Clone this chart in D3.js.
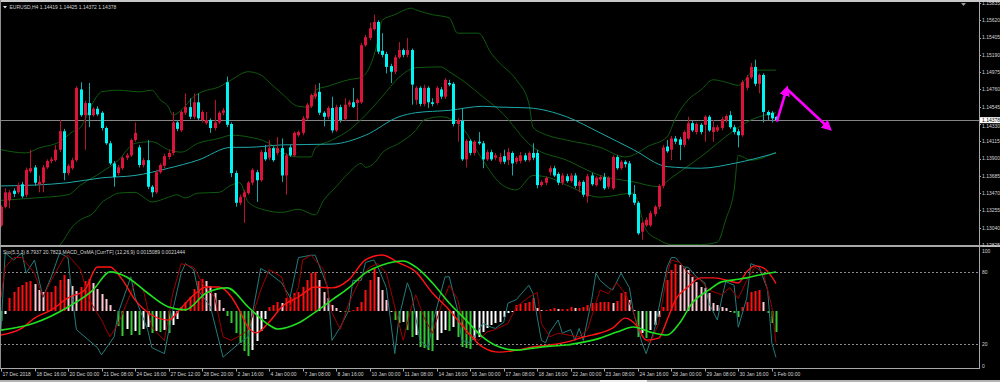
<!DOCTYPE html>
<html>
<head>
<meta charset="utf-8">
<title>EURUSD,H4</title>
<script src="https://cdn.jsdelivr.net/npm/d3@7"></script>
<style>
  html, body { margin: 0; padding: 0; background: #000; }
  svg { display: block; }
  text { font-family: "Liberation Sans", Arial, sans-serif; font-size: 5px; fill: #d4d4d4; }
</style>
</head>
<body>
<svg id="chart" width="1000" height="382"></svg>
<script>
// ---- data (H4 bars, open/high/low/close) ----
var candles = [
  [1.1307,1.1332,1.1305,1.1330],[1.1330,1.1353,1.1328,1.1348],[1.1338,1.1351,1.1328,1.1348],[1.1350,1.1353,1.1342,1.1346],
  [1.1348,1.1360,1.1346,1.1357],[1.1358,1.1361,1.1341,1.1343],[1.1345,1.1379,1.1342,1.1376],[1.1374,1.1401,1.1372,1.1378],
  [1.1379,1.1382,1.1356,1.1360],[1.1358,1.1369,1.1348,1.1361],[1.1360,1.1382,1.1348,1.1379],[1.1379,1.1389,1.1377,1.1387],
  [1.1387,1.1392,1.1384,1.1389],[1.1388,1.1407,1.1386,1.1401],[1.1401,1.1438,1.1398,1.1424],[1.1424,1.1427,1.1363,1.1372],
  [1.1372,1.1383,1.1369,1.1381],[1.1378,1.1391,1.1376,1.1388],[1.1388,1.1480,1.1386,1.1478],[1.1476,1.1485,1.1442,1.1444],
  [1.1444,1.1462,1.1401,1.1459],[1.1459,1.1484,1.1429,1.1444],[1.1444,1.1454,1.1442,1.1452],[1.1452,1.1455,1.1443,1.1445],
  [1.1447,1.1449,1.1425,1.1428],[1.1428,1.1430,1.1407,1.1409],[1.1409,1.1412,1.1382,1.1384],[1.1384,1.1387,1.1355,1.1367],
  [1.1372,1.1382,1.1369,1.1379],[1.1378,1.1393,1.1376,1.1391],[1.1391,1.1397,1.1388,1.1394],[1.1394,1.1415,1.1392,1.1413],
  [1.1413,1.1435,1.1411,1.1422],[1.1404,1.1407,1.1379,1.1382],[1.1382,1.1391,1.1379,1.1388],[1.1388,1.1413,1.1352,1.1355],
  [1.1355,1.1357,1.1342,1.1348],[1.1348,1.1376,1.1346,1.1373],[1.1373,1.1384,1.1371,1.1382],[1.1381,1.1396,1.1378,1.1393],
  [1.1392,1.1401,1.1389,1.1397],[1.1397,1.1448,1.1394,1.1435],[1.1435,1.1438,1.1424,1.1427],[1.1425,1.1450,1.1423,1.1448],
  [1.1447,1.1471,1.1444,1.1454],[1.1454,1.1465,1.1439,1.1442],[1.1442,1.1471,1.1439,1.1460],[1.1460,1.1471,1.1438,1.1440],
  [1.1438,1.1450,1.1435,1.1448],[1.1434,1.1448,1.1432,1.1438],[1.1438,1.1440,1.1422,1.1428],[1.1428,1.1463,1.1425,1.1435],
  [1.1435,1.1449,1.1433,1.1447],[1.1447,1.1453,1.1444,1.1450],[1.1485,1.1492,1.1429,1.1432],[1.1433,1.1435,1.1367,1.1372],
  [1.1372,1.1375,1.1330,1.1335],[1.1335,1.1345,1.1332,1.1342],[1.1342,1.1351,1.1310,1.1348],[1.1347,1.1362,1.1345,1.1360],
  [1.1360,1.1378,1.1357,1.1376],[1.1373,1.1376,1.1336,1.1363],[1.1363,1.1401,1.1361,1.1398],[1.1398,1.1407,1.1387,1.1389],
  [1.1391,1.1413,1.1388,1.1403],[1.1403,1.1405,1.1386,1.1388],[1.1397,1.1417,1.1394,1.1403],[1.1403,1.1415,1.1361,1.1369],
  [1.1369,1.1397,1.1345,1.1394],[1.1404,1.1407,1.1392,1.1394],[1.1394,1.1424,1.1392,1.1422],[1.1419,1.1425,1.1417,1.1423],
  [1.1422,1.1443,1.1419,1.1440],[1.1440,1.1459,1.1438,1.1457],[1.1455,1.1471,1.1453,1.1469],[1.1467,1.1482,1.1464,1.1471],
  [1.1473,1.1484,1.1444,1.1447],[1.1447,1.1449,1.1430,1.1442],[1.1442,1.1455,1.1439,1.1453],[1.1453,1.1467,1.1422,1.1425],
  [1.1425,1.1457,1.1423,1.1454],[1.1454,1.1457,1.1435,1.1438],[1.1439,1.1465,1.1437,1.1457],[1.1457,1.1463,1.1454,1.1460],
  [1.1460,1.1478,1.1453,1.1454],[1.1459,1.1465,1.1438,1.1463],[1.1460,1.1534,1.1458,1.1531],[1.1531,1.1544,1.1529,1.1541],
  [1.1540,1.1559,1.1537,1.1552],[1.1551,1.1569,1.1549,1.1560],[1.1560,1.1562,1.1520,1.1523],[1.1524,1.1546,1.1516,1.1519],
  [1.1520,1.1523,1.1496,1.1504],[1.1505,1.1508,1.1484,1.1498],[1.1498,1.1519,1.1495,1.1516],[1.1516,1.1535,1.1514,1.1525],
  [1.1525,1.1527,1.1516,1.1519],[1.1519,1.1540,1.1516,1.1525],[1.1525,1.1527,1.1457,1.1482],[1.1463,1.1480,1.1457,1.1478],
  [1.1478,1.1480,1.1455,1.1458],[1.1458,1.1482,1.1455,1.1478],[1.1478,1.1480,1.1453,1.1460],[1.1460,1.1465,1.1455,1.1458],
  [1.1459,1.1480,1.1457,1.1478],[1.1476,1.1479,1.1464,1.1467],[1.1467,1.1490,1.1464,1.1488],[1.1484,1.1488,1.1480,1.1482],
  [1.1483,1.1485,1.1430,1.1433],[1.1433,1.1440,1.1411,1.1438],[1.1437,1.1453,1.1387,1.1389],[1.1389,1.1414,1.1379,1.1412],
  [1.1412,1.1414,1.1394,1.1397],[1.1397,1.1413,1.1394,1.1411],[1.1411,1.1423,1.1407,1.1409],[1.1409,1.1412,1.1378,1.1389],
  [1.1389,1.1401,1.1387,1.1398],[1.1398,1.1401,1.1387,1.1389],[1.1391,1.1397,1.1388,1.1394],[1.1386,1.1397,1.1383,1.1392],
  [1.1393,1.1401,1.1383,1.1386],[1.1388,1.1403,1.1382,1.1398],[1.1397,1.1399,1.1369,1.1384],[1.1386,1.1393,1.1383,1.1391],
  [1.1387,1.1398,1.1384,1.1394],[1.1394,1.1397,1.1386,1.1388],[1.1388,1.1399,1.1386,1.1397],[1.1397,1.1409,1.1388,1.1391],
  [1.1397,1.1401,1.1353,1.1357],[1.1357,1.1363,1.1355,1.1361],[1.1360,1.1368,1.1357,1.1366],[1.1373,1.1381,1.1369,1.1378],
  [1.1378,1.1381,1.1367,1.1369],[1.1371,1.1373,1.1357,1.1360],[1.1360,1.1372,1.1357,1.1369],[1.1368,1.1371,1.1360,1.1362],
  [1.1362,1.1372,1.1360,1.1369],[1.1369,1.1372,1.1353,1.1356],[1.1356,1.1363,1.1348,1.1361],[1.1361,1.1363,1.1342,1.1345],
  [1.1343,1.1371,1.1335,1.1368],[1.1369,1.1372,1.1356,1.1358],[1.1357,1.1368,1.1355,1.1366],[1.1364,1.1369,1.1362,1.1367],
  [1.1367,1.1372,1.1351,1.1353],[1.1355,1.1368,1.1352,1.1366],[1.1353,1.1394,1.1351,1.1392],[1.1392,1.1394,1.1376,1.1378],
  [1.1378,1.1388,1.1376,1.1386],[1.1386,1.1388,1.1379,1.1383],[1.1384,1.1387,1.1342,1.1345],[1.1346,1.1357,1.1332,1.1335],
  [1.1335,1.1337,1.1295,1.1297],[1.1299,1.1312,1.1289,1.1310],[1.1307,1.1317,1.1305,1.1314],[1.1307,1.1325,1.1305,1.1322],
  [1.1321,1.1332,1.1318,1.1330],[1.1330,1.1358,1.1327,1.1356],[1.1356,1.1407,1.1353,1.1404],[1.1405,1.1413,1.1397,1.1399],
  [1.1401,1.1418,1.1388,1.1415],[1.1415,1.1418,1.1408,1.1411],[1.1414,1.1417,1.1388,1.1407],[1.1407,1.1425,1.1404,1.1423],
  [1.1415,1.1442,1.1413,1.1434],[1.1434,1.1437,1.1423,1.1425],[1.1423,1.1435,1.1420,1.1433],[1.1432,1.1434,1.1420,1.1423],
  [1.1432,1.1444,1.1411,1.1442],[1.1442,1.1444,1.1423,1.1425],[1.1423,1.1438,1.1411,1.1429],[1.1425,1.1432,1.1423,1.1429],
  [1.1428,1.1442,1.1425,1.1439],[1.1438,1.1445,1.1435,1.1443],[1.1444,1.1449,1.1427,1.1429],[1.1429,1.1432,1.1420,1.1423],
  [1.1424,1.1427,1.1404,1.1419],[1.1419,1.1488,1.1417,1.1485],[1.1478,1.1494,1.1475,1.1491],[1.1491,1.1509,1.1489,1.1504],
  [1.1504,1.1513,1.1480,1.1483],[1.1483,1.1496,1.1471,1.1494],[1.1494,1.1496,1.1435,1.1448],[1.1448,1.1450,1.1438,1.1444],
  [1.1447,1.1449,1.1435,1.1440],[1.14419,1.14425,1.14372,1.14378]
];

// indicator readings: [bar index, value]
var bbUpper = [[0,1.1401],[6,1.1397],[9,1.1403],[14,1.1411],[17,1.1423],[19,1.1429],[22,1.1460],[24,1.1473],[28,1.1475],
  [33,1.1473],[36,1.1475],[38,1.1463],[40,1.1454],[41,1.1444],[43,1.1450],[46,1.1467],[48,1.1473],[52,1.1479],[55,1.1488],
  [59,1.1498],[62,1.1494],[64,1.1485],[67,1.1471],[71,1.1455],[74,1.1454],[75,1.1475],[78,1.1480],[83,1.1488],[86,1.1491],
  [88,1.1504],[90,1.1537],[91,1.1562],[94,1.1569],[98,1.1577],[99,1.1575],[103,1.1569],[107,1.1565],[109,1.1546],[114,1.1546],
  [117,1.1521],[119,1.1509],[123,1.1488],[126,1.1459],[127,1.1429],[129,1.1422],[131,1.1418],[135,1.1413],[143,1.1404],
  [149,1.1392],[152,1.1397],[154,1.1404],[159,1.1417],[161,1.1440],[164,1.1463],[167,1.1475],[170,1.1488],[173,1.1485],
  [176,1.1481],[180,1.1500],[185,1.1500]];
var bbMiddle = [[0,1.1338],[8,1.1341],[16,1.1345],[19,1.1357],[24,1.1373],[28,1.1388],[32,1.1409],[36,1.1411],[40,1.1401],
  [43,1.1398],[47,1.1409],[52,1.1415],[55,1.1419],[59,1.1417],[64,1.1409],[67,1.1398],[71,1.1392],[74,1.1392],[75,1.1403],
  [79,1.1413],[83,1.1425],[87,1.1444],[91,1.1467],[95,1.1491],[99,1.1503],[105,1.1504],[107,1.1498],[111,1.1484],[115,1.1467],
  [119,1.1450],[127,1.1404],[135,1.1388],[143,1.1369],[151,1.1361],[157,1.1355],[160,1.1366],[167,1.1392],[175,1.1425],
  [179,1.1438],[185,1.1447]];
var bbLower = [[14,1.1282],[15,1.1289],[17,1.1305],[19,1.1314],[22,1.1322],[24,1.1335],[26,1.1342],[28,1.1347],[32,1.1348],
  [34,1.1342],[36,1.1336],[40,1.1342],[42,1.1345],[44,1.1341],[47,1.1347],[52,1.1348],[55,1.1357],[57,1.1360],[59,1.1336],
  [63,1.1326],[67,1.1323],[71,1.1327],[75,1.1320],[77,1.1338],[80,1.1355],[83,1.1372],[86,1.1384],[87,1.1379],[89,1.1384],
  [91,1.1397],[95,1.1409],[99,1.1425],[101,1.1438],[105,1.1442],[107,1.1440],[110,1.1429],[115,1.1388],[119,1.1360],
  [123,1.1351],[127,1.1369],[131,1.1366],[135,1.1357],[143,1.1342],[151,1.1347],[154,1.1301],[157,1.1289],[160,1.1283],
  [167,1.1283],[171,1.1286],[173,1.1314],[175,1.1351],[176,1.1394],[179,1.1388],[185,1.1398]];
var maSlow = [[0,1.1356],[8,1.1357],[16,1.1360],[24,1.1366],[32,1.1369],[40,1.1378],[47,1.1388],[55,1.1404],[59,1.1404],
  [67,1.1407],[79,1.1408],[87,1.1419],[95,1.1442],[99,1.1447],[107,1.1450],[115,1.1455],[119,1.1454],[126,1.1453],
  [135,1.1442],[143,1.1422],[151,1.1401],[159,1.1380],[167,1.1378],[175,1.1384],[185,1.1397]];

// Stochastic (5,3,3): main and signal, 0..100
var stochMain = [[0,32],[1,96],[3,90],[5,96],[6,79],[8,90],[10,59],[12,76],[14,96],[16,92],[17,59],[18,32],[23,17],[24,11],
  [27,26],[28,46],[31,76],[32,59],[35,32],[36,17],[39,12],[41,48],[43,79],[44,87],[46,82],[47,65],[50,51],[52,23],[53,9],
  [55,15],[57,21],[59,26],[62,83],[64,79],[67,71],[69,59],[71,92],[74,94],[75,94],[78,67],[79,23],[81,34],[83,48],[84,73],
  [86,73],[87,88],[89,90],[90,84],[92,67],[94,12],[95,42],[97,71],[98,62],[100,23],[102,17],[103,37],[106,76],[107,76],
  [109,48],[110,23],[112,21],[115,37],[117,34],[118,33],[120,38],[121,54],[123,57],[126,69],[127,62],[129,23],[130,21],
  [131,30],[133,40],[134,29],[136,32],[137,23],[138,33],[139,23],[141,57],[142,79],[143,73],[145,67],[146,65],[148,79],
  [150,67],[151,46],[153,21],[154,12],[156,32],[159,84],[160,92],[161,92],[163,84],[164,84],[166,76],[168,71],[169,54],
  [171,40],[172,57],[173,72],[175,69],[176,34],[178,58],[179,87],[181,84],[183,65],[184,21],[185,8.7937]];
var stochSignal = [[0,59],[1,84],[3,92],[5,92],[8,79],[10,59],[12,73],[15,92],[16,94],[19,82],[21,57],[24,40],[26,26],[28,37],
  [32,71],[34,65],[36,34],[39,23],[41,62],[43,87],[46,84],[48,71],[51,59],[53,26],[55,23],[58,29],[59,32],[62,65],[64,82],
  [67,76],[69,51],[71,67],[72,90],[74,94],[77,82],[79,46],[81,32],[83,54],[86,76],[88,84],[90,87],[92,79],[95,37],[96,23],
  [98,51],[99,61],[101,42],[103,29],[105,51],[107,69],[109,57],[111,29],[114,23],[116,30],[118,32],[121,37],[123,51],
  [126,59],[128,63],[129,37],[131,26],[133,29],[136,27],[138,26],[140,32],[142,54],[143,65],[145,62],[147,71],[149,62],
  [151,46],[153,26],[155,21],[157,37],[159,79],[160,90],[162,88],[164,79],[167,73],[169,65],[172,61],[174,67],[176,58],
  [178,73],[180,84],[182,79],[184,51],[185,20.7823]];

// MACD (12,26,9) in points (1e-5)
var macdMain = [[0,-132],[5,-94],[8,-39],[12,6],[16,72],[20,116],[23,242],[26,242],[29,171],[32,61],[36,-22],[40,-50],
  [43,17],[46,88],[49,132],[52,132],[55,77],[57,0],[59,-90],[61,-120],[64,-61],[67,22],[71,77],[75,132],[79,127],[83,171],
  [87,281],[91,308],[95,264],[99,215],[103,99],[107,6],[111,-105],[115,-198],[119,-226],[123,-215],[127,-198],[131,-187],
  [135,-171],[139,-143],[143,-121],[146,-94],[149,-39],[152,-88],[154,-160],[157,-149],[159,-50],[161,61],[164,132],
  [167,182],[170,182],[173,171],[176,154],[178,215],[180,248],[182,237],[184,187],[185,151]];
var macdSignal = [[0,-105],[8,-66],[16,22],[22,116],[26,215],[30,187],[35,99],[40,22],[44,6],[49,99],[54,127],[59,22],
  [64,-77],[66,-99],[71,-66],[75,-6],[79,61],[83,127],[87,209],[91,253],[96,275],[99,242],[103,154],[107,44],[111,-50],
  [115,-143],[119,-198],[123,-215],[127,-204],[131,-193],[135,-187],[139,-171],[143,-149],[147,-116],[151,-88],[155,-116],
  [159,-132],[162,-66],[165,44],[169,116],[172,160],[175,171],[178,182],[181,198],[185,214]];
// OsMA histogram, one value per bar, points (1e-5)
var osma = [-30,-9,39,57,72,78,87,90,81,63,57,57,57,75,93,108,96,75,60,72,90,96,84,66,51,36,18,3,-45,-75,
  -54,-72,-60,-72,-54,-48,-66,-60,-63,-57,-66,-42,-24,12,27,42,66,90,96,90,75,54,33,9,-15,-36,-66,-96,-120,-135,
  -117,-90,-60,-24,12,18,27,24,39,42,54,57,72,93,114,117,93,57,39,18,9,0,-3,0,3,12,27,63,93,129,
  102,63,33,0,-27,-36,-33,-57,-78,-72,-108,-111,-117,-120,-87,-66,-57,-60,-48,-78,-108,-111,-114,-87,-78,-63,-51,-42,-36,-33,
  -18,-6,-3,18,21,24,27,39,9,3,3,6,9,6,6,6,12,9,9,12,18,24,24,27,27,27,24,30,54,57,
  33,3,-78,-66,-81,-57,-42,-18,12,93,123,141,138,129,123,102,87,72,69,54,24,18,12,9,0,-6,-18,12,27,57,60,63,27,-6,-36,-63];

var timeLabels = ["17 Dec 2018","18 Dec 16:00","20 Dec 00:00","21 Dec 08:00","24 Dec 16:00","27 Dec 12:00","28 Dec 20:00",
  "2 Jan 16:00","4 Jan 00:00","7 Jan 08:00","8 Jan 16:00","10 Jan 00:00","11 Jan 08:00","14 Jan 16:00","16 Jan 00:00",
  "17 Jan 08:00","18 Jan 16:00","22 Jan 00:00","23 Jan 08:00","24 Jan 16:00","28 Jan 00:00","29 Jan 08:00","30 Jan 16:00","1 Feb 00:00"];
var priceTicks = [1.15835,1.15620,1.15405,1.15190,1.14975,1.14760,1.14545,1.14330,1.14115,1.13900,1.13685,1.13470,1.13255,1.13040,1.12825];
var oscTicks = [100,80,20,0];
var oscLevels = [80,20];
var lastPrice = 1.14378;
// hand-drawn arrows (bar index, price)
var arrowPath = [[185.2,1.1436],[187.5,1.1476],[197.6,1.1428]];

var mainTitle = "EURUSD,H4  1.14419 1.14425 1.14372 1.14378";
var oscTitle = "Sto(5,3,3) 8.7937 20.7823   MACD_OsMA [CurrTF] (12,26,9) 0.0015089 0.0021444";

// ---- layout ----
var svg = d3.select("#chart");
var plotR = 979;
var x = d3.scaleLinear().domain([0, 185]).range([1, 776]);
var y = d3.scaleLinear().domain([1.12825, 1.15835]).range([245, 3]);
var yS = d3.scaleLinear().domain([0, 100]).range([368, 248]);
var yM = d3.scaleLinear().domain([-200, 200]).range([347.4, 274.6]);
var yH = d3.scaleLinear().domain([-30, 30]).range([321, 301]);

svg.append("rect").attr("width", 1000).attr("height", 382).attr("fill", "#000");

var defs = svg.append("defs");
defs.append("clipPath").attr("id", "clipMain").append("rect").attr("x", 0).attr("y", 3).attr("width", plotR).attr("height", 242);
defs.append("clipPath").attr("id", "clipOsc").append("rect").attr("x", 0).attr("y", 248).attr("width", plotR).attr("height", 120);
defs.append("marker").attr("id", "head").attr("viewBox", "0 0 10 10").attr("refX", 6).attr("refY", 5)
  .attr("markerWidth", 4).attr("markerHeight", 4).attr("orient", "auto")
  .append("path").attr("d", "M0,0 L10,5 L0,10 z").attr("fill", "#ff00ff");

// ---- main panel ----
var main = svg.append("g").attr("clip-path", "url(#clipMain)");

main.append("line").attr("x1", 0).attr("x2", plotR)
  .attr("y1", Math.round(y(lastPrice)) + 0.5).attr("y2", Math.round(y(lastPrice)) + 0.5)
  .attr("stroke", "#858585").attr("stroke-width", 1);

var pline = d3.line().x(function(d) { return x(d[0]); }).y(function(d) { return y(d[1]); }).curve(d3.curveMonotoneX);
[bbUpper, bbMiddle, bbLower].forEach(function(s) {
  main.append("path").attr("d", pline(s)).attr("fill", "none").attr("stroke", "#0f5a0f").attr("stroke-width", 1);
});
main.append("path").attr("d", pline(maSlow)).attr("fill", "none").attr("stroke", "#1fa8a8").attr("stroke-width", 1);

var bars = main.selectAll("g.candle").data(candles).enter().append("g").attr("class", "candle");
bars.append("line")
  .attr("x1", function(d, i) { return Math.round(x(i)) + 0.5; })
  .attr("x2", function(d, i) { return Math.round(x(i)) + 0.5; })
  .attr("y1", function(d) { return y(d[1]); })
  .attr("y2", function(d) { return y(d[2]); })
  .attr("stroke", function(d) { return d[3] >= d[0] ? "#b8102e" : "#18a8a8"; })
  .attr("stroke-width", 1);
bars.append("rect")
  .attr("x", function(d, i) { return Math.round(x(i)) - 1; })
  .attr("width", 3)
  .attr("y", function(d) { return y(Math.max(d[0], d[3])); })
  .attr("height", function(d) { return Math.max(1, Math.abs(y(d[0]) - y(d[3]))); })
  .attr("fill", function(d) { return d[3] >= d[0] ? "#dc143c" : "#00f4f4"; });

main.append("path")
  .attr("d", "M" + x(arrowPath[0][0]) + "," + y(arrowPath[0][1]) + "L" + x(arrowPath[1][0]) + "," + y(arrowPath[1][1]))
  .attr("stroke", "#ff00ff").attr("stroke-width", 2.6).attr("fill", "none").attr("marker-end", "url(#head)");
main.append("path")
  .attr("d", "M" + (x(arrowPath[1][0]) + 1) + "," + y(arrowPath[1][1]) + "L" + x(arrowPath[2][0]) + "," + y(arrowPath[2][1]))
  .attr("stroke", "#ff00ff").attr("stroke-width", 2.6).attr("fill", "none").attr("marker-end", "url(#head)");

// ---- oscillator panel ----
var osc = svg.append("g").attr("clip-path", "url(#clipOsc)");
oscLevels.forEach(function(v) {
  osc.append("line").attr("x1", 0).attr("x2", plotR).attr("y1", Math.round(yS(v)) + 0.5).attr("y2", Math.round(yS(v)) + 0.5)
    .attr("stroke", "#8c8c8c").attr("stroke-dasharray", "2,2").attr("stroke-width", 1);
});

function histColor(v, i) {
  var prev = i > 0 ? osma[i - 1] : 0;
  if (v >= 0) return v >= prev ? "#ff1010" : "#ffc8d2";
  return v < prev ? "#34c934" : "#ffffff";
}
osc.selectAll("rect.h").data(osma).enter().append("rect").attr("class", "h")
  .attr("x", function(d, i) { return Math.round(x(i)) - 0.5; })
  .attr("width", 2)
  .attr("y", function(d) { return Math.min(yH(d), yH(0)); })
  .attr("height", function(d) { return Math.max(1, Math.abs(yH(d) - yH(0))); })
  .attr("fill", histColor);

var sline = d3.line().x(function(d) { return x(d[0]); }).y(function(d) { return yS(d[1]); });
var mline = d3.line().x(function(d) { return x(d[0]); }).y(function(d) { return yM(d[1]); }).curve(d3.curveMonotoneX);
osc.append("path").attr("d", sline(stochMain)).attr("fill", "none").attr("stroke", "#247c7c").attr("stroke-width", 1);
osc.append("path").attr("d", sline(stochSignal)).attr("fill", "none").attr("stroke", "#a00000").attr("stroke-width", 1).attr("stroke-linejoin", "round");
osc.append("path").attr("d", mline(macdMain)).attr("fill", "none").attr("stroke", "#ff1414").attr("stroke-width", 1.4);
osc.append("path").attr("d", mline(macdSignal)).attr("fill", "none").attr("stroke", "#20e020").attr("stroke-width", 1.6);

// ---- frame and axes ----
var frame = "#a8a8a8";
svg.append("rect").attr("x", 0).attr("y", 0).attr("width", 1000).attr("height", 2).attr("fill", "#c8c8c8");
svg.append("rect").attr("x", 0).attr("y", 0).attr("width", 1).attr("height", 369).attr("fill", "#909090");
svg.append("rect").attr("x", 0).attr("y", 245).attr("width", 1000).attr("height", 2).attr("fill", frame);
svg.append("line").attr("x1", plotR + 0.5).attr("x2", plotR + 0.5).attr("y1", 2).attr("y2", 369).attr("stroke", frame);
svg.append("line").attr("x1", 0).attr("x2", plotR + 1).attr("y1", 368.5).attr("y2", 368.5).attr("stroke", frame);
svg.append("rect").attr("x", 0).attr("y", 380).attr("width", 1000).attr("height", 2).attr("fill", "#b4b4b4");
svg.append("rect").attr("x", 600).attr("y", 380).attr("width", 47).attr("height", 2).attr("fill", "#f0f0f0");
svg.append("path").attr("d", "M961,3 L966,3 L963.5,6 z").attr("fill", "#9a9a9a");

// price axis; the label right under the last-price box is nudged down so both stay readable
var lp = y(lastPrice);
var pAxis = svg.append("g");
priceTicks.forEach(function(p) {
  var py = y(p);
  var ty = py + 1.8;
  if (Math.abs(py - lp) < 7) ty = lp + 8.2;
  pAxis.append("line").attr("x1", plotR).attr("x2", plotR + 2).attr("y1", Math.round(py) + 0.5).attr("y2", Math.round(py) + 0.5).attr("stroke", frame);
  pAxis.append("text").attr("x", 982).attr("y", ty).text(p.toFixed(5));
});
pAxis.append("rect").attr("x", 980).attr("y", lp - 3).attr("width", 20).attr("height", 6).attr("fill", "#ffffff");
pAxis.append("text").attr("x", 982).attr("y", lp + 1.8).style("fill", "#000").text(lastPrice.toFixed(5));

oscTicks.forEach(function(v) {
  var vy = v === 100 ? yS(v) + 3 : (v === 0 ? yS(v) - 2 : yS(v));
  svg.append("text").attr("x", 982).attr("y", vy + 1.8).text(v);
});

// time axis
timeLabels.forEach(function(t, k) {
  var tx = Math.round(x(k * 8)) + 0.5;
  svg.append("line").attr("x1", tx).attr("x2", tx).attr("y1", 368).attr("y2", 371.5).attr("stroke", frame);
  svg.append("text").attr("x", tx + 1).attr("y", 376.4).text(t);
});

// titles
svg.append("path").attr("d", "M3,6 L7,6 L5,8.5 z").attr("fill", "#e0e0e0");
svg.append("text").attr("x", 9.5).attr("y", 8.8).text(mainTitle);
svg.append("text").attr("x", 3).attr("y", 253.8).text(oscTitle);
</script>
</body>
</html>
